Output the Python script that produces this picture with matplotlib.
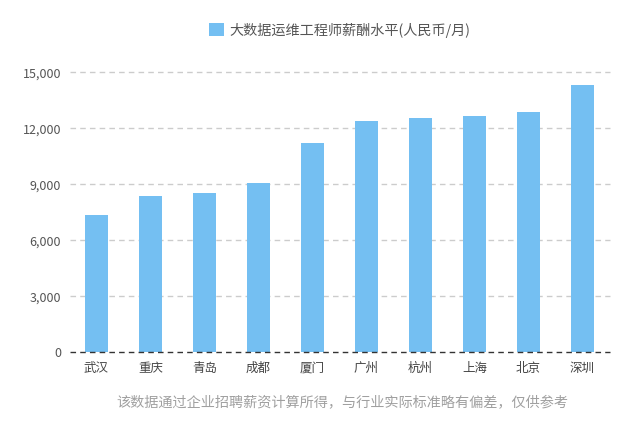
import matplotlib.pyplot as plt
from matplotlib.ticker import FuncFormatter

plt.rcParams['font.family'] = ['Noto Sans CJK SC', 'DejaVu Sans']

cities = ['武汉', '重庆', '青岛', '成都', '厦门', '广州', '杭州', '上海', '北京', '深圳']
salary = [7350, 8390, 8540, 9070, 11200, 12380, 12540, 12640, 12870, 14300]
series_name = '大数据运维工程师薪酬水平(人民币/月)'
note = '该数据通过企业招聘薪资计算所得，与行业实际标准略有偏差，仅供参考'
yticks = [0, 3000, 6000, 9000, 12000, 15000]

bar_color = '#74bff2'

fig = plt.figure(figsize=(6.4, 4.21), dpi=100)
ax = fig.add_axes([69.5 / 640, 68.7 / 421, 540 / 640, 280 / 421])

x = range(len(cities))
ax.bar(x, salary, width=0.43, color=bar_color, label=series_name, zorder=2)

ax.set_xlim(-0.5, len(cities) - 0.5)
ax.set_ylim(0, 15000)
ax.set_yticks(yticks)
ax.yaxis.set_major_formatter(FuncFormatter(lambda v, p: f'{int(v):,}'))
ax.set_xticks(list(x))
ax.set_xticklabels(cities)

for v in yticks[1:]:
    ax.axhline(v, color='#cccccc', linewidth=1, linestyle=(0, (4, 3)), zorder=1, clip_on=False)
ax.axhline(0, color='#333333', linewidth=1, linestyle=(0, (4, 3)), zorder=3, clip_on=False)

for s in ax.spines.values():
    s.set_visible(False)
ax.tick_params(axis='y', length=0, pad=6, labelsize=9, labelcolor='#555555')
ax.tick_params(axis='x', length=0, pad=7, labelsize=9, labelcolor='#444444')

leg = fig.legend(loc='center', bbox_to_anchor=(340 / 640, 1 - 30 / 421), frameon=False,
                 fontsize=10.2, handlelength=1.05, handleheight=1.05, handletextpad=0.4)
for t in leg.get_texts():
    t.set_color('#555555')

fig.text(342 / 640, 1 - 403 / 421, note, ha='center', va='center', fontsize=10.2, color='#a0a0a0')

fig.savefig('out.png', dpi=100)
